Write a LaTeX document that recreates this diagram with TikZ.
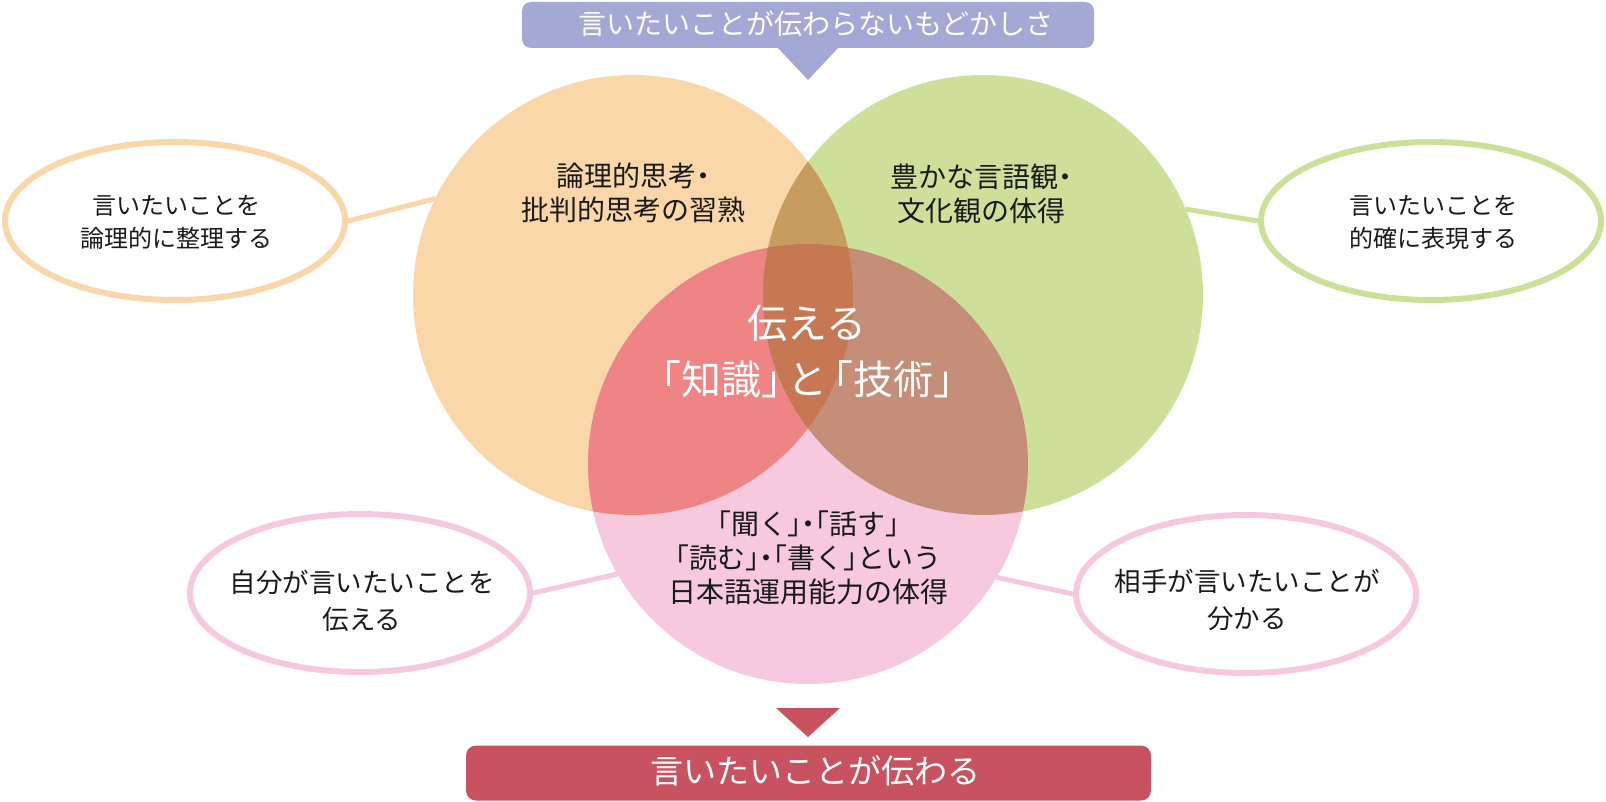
\documentclass[tikz,border=0pt]{standalone}
\usepackage{fontspec}
\setmainfont{Noto Sans CJK JP}
\newfontfamily\jphalt[RawFeature=+halt]{Noto Sans CJK JP}
\usetikzlibrary{shapes.geometric}
\definecolor{clav}{HTML}{A4A8D5}
\definecolor{corange}{HTML}{F9D7A8}
\definecolor{cgreen}{HTML}{CDE09A}
\definecolor{cog}{HTML}{C89B5E}
\definecolor{cpink}{HTML}{F6C9DF}
\definecolor{cpo}{HTML}{EE8484}
\definecolor{cpg}{HTML}{C58E78}
\definecolor{cpog}{HTML}{C57852}
\definecolor{cred}{HTML}{C95260}
\definecolor{ctext}{HTML}{1A1A1A}
\tikzset{
  venn/.style={circle, minimum size=440pt, inner sep=0pt, outer sep=0pt},
  oval/.style={ellipse, draw=#1, line width=6pt, fill=white, minimum width=340pt, minimum height=158pt, inner sep=0pt},
  link/.style={draw=#1, line width=5pt},
  smalltxt/.style={text=ctext, align=center, inner sep=0pt, font=\fontsize{24}{33}\selectfont},
  midtxt/.style={text=ctext, align=center, inner sep=0pt, font=\fontsize{26.5}{37}\selectfont},
  circtxt/.style={text=ctext, align=center, inner sep=0pt, font=\jphalt\fontsize{28}{34}\selectfont},
  whitetxt/.style={text=white, align=center, inner sep=0pt}
}
\begin{document}
\begin{tikzpicture}[x=1pt,y=-1pt]
\useasboundingbox (0,0) rectangle (1606,802);
% circles
\node[venn, fill=corange] (o) at (633,295) {};
\node[venn, fill=cgreen] (g) at (983,295) {};
\begin{scope}
  \clip (o.center) circle[radius=220];
  \fill[cog] (g.center) circle[radius=220];
\end{scope}
\node[venn, fill=cpink] (p) at (808,464) {};
\begin{scope}
  \clip (p.center) circle[radius=220];
  \fill[cpo] (o.center) circle[radius=220];
  \fill[cpg] (g.center) circle[radius=220];
  \clip (o.center) circle[radius=220];
  \fill[cpog] (g.center) circle[radius=220];
\end{scope}
% circle texts
\node[circtxt] (ot) at (633,193) {論理的思考・\\批判的思考の習熟};
\node[circtxt] (gt) at (981,194) {豊かな言語観・\\文化観の体得};
\node[circtxt] (pt) at (808,558) {「聞く」・「話す」\\「読む」・「書く」という\\日本語運用能力の体得};
\node[whitetxt, font=\fontsize{40}{56}\selectfont] (ct) at (807,351) {伝える\\「知識」\kern-.35emと\kern-.35em「技術」};
% ellipses
\node[oval=corange] (e1) at (175,221) {};
\node[oval=cgreen] (e2) at (1431,221) {};
\node[oval=cpink] (e3) at (360,593) {};
\node[oval=cpink] (e4) at (1246,594) {};
\node[smalltxt] (e1t) at (176,222) {言いたいことを\\論理的に整理する};
\node[smalltxt] (e2t) at (1433,222) {言いたいことを\\的確に表現する};
\node[midtxt] (e3t) at (362,601) {自分が言いたいことを\\伝える};
\node[midtxt] (e4t) at (1247,600) {相手が言いたいことが\\分かる};
% connectors
\draw[link=corange] (e1.east) -- (o.154);
\draw[link=cgreen] (g.23) -- (e2.west);
\draw[link=cpink] (e3.east) -- (p.210);
\draw[link=cpink] (p.-31) -- (e4.west);
% top banner
\node[fill=clav, rounded corners=9pt, minimum width=572pt, minimum height=46pt, inner sep=0pt] (top) at (808,25) {};
\fill[clav] (777,47) -- (839,47) -- (808,80) -- cycle;
\node[whitetxt, font=\fontsize{28}{34}\selectfont] (topt) at (816,24) {言いたいことが伝わらないもどかしさ};
% bottom banner
\fill[cred] (776,708) -- (840,708) -- (808,737) -- cycle;
\node[fill=cred, rounded corners=10pt, minimum width=685pt, minimum height=55pt, inner sep=0pt] (bot) at (808.5,773) {};
\node[whitetxt, font=\fontsize{33}{40}\selectfont] (bott) at (815,771) {言いたいことが伝わる};
\end{tikzpicture}
\end{document}
